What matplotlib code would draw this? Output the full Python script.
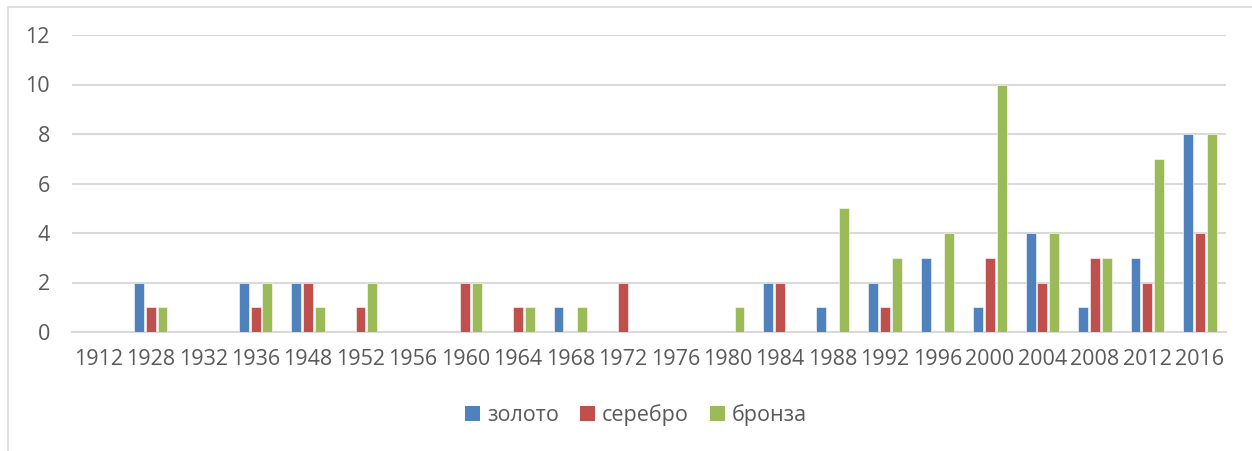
import numpy as np
import matplotlib

matplotlib.use("Agg")
import matplotlib.pyplot as plt
from matplotlib.patches import Rectangle, Patch

years = ["1912", "1928", "1932", "1936", "1948", "1952", "1956", "1960", "1964",
         "1968", "1972", "1976", "1980", "1984", "1988", "1992", "1996", "2000",
         "2004", "2008", "2012", "2016"]
gold = [0, 2, 0, 2, 2, 0, 0, 0, 0, 1, 0, 0, 0, 2, 1, 2, 3, 1, 4, 1, 3, 8]
silver = [0, 1, 0, 1, 2, 1, 0, 2, 1, 0, 2, 0, 0, 2, 0, 1, 0, 3, 2, 3, 2, 4]
bronze = [0, 1, 0, 2, 1, 2, 0, 2, 1, 1, 0, 0, 1, 0, 5, 3, 4, 10, 4, 3, 7, 8]
series_names = ["золото", "серебро", "бронза"]
colors = ["#4F81BD", "#C0504D", "#9BBB59"]

plt.rcParams["font.family"] = ["Open Sans", "DejaVu Sans"]
text_color = "#595959"
grid_color = "#d9d9d9"

fig = plt.figure(figsize=(12.52, 4.51), dpi=100)
ax = fig.add_axes([72 / 1252, 1 - 332 / 451, 1154 / 1252, 297 / 451])

# outer chart frame (runs off the right and bottom edges)
fig.patches.append(Rectangle((7.5 / 1252, -0.2), 1.2, 1.2 - 6.5 / 451,
                             transform=fig.transFigure, fill=False,
                             edgecolor=grid_color, linewidth=1.2))

x = np.arange(len(years))
width = 0.19
step = 0.225
for i, vals in enumerate([gold, silver, bronze]):
    ax.bar(x + (i - 1) * step, vals, width, color=colors[i],
           edgecolor="white", linewidth=0.4, zorder=3)

ax.set_xlim(-0.5, len(years) - 0.5)
ax.set_ylim(0, 12)
ax.set_yticks(range(0, 13, 2))
ax.yaxis.grid(True, color=grid_color, linewidth=1.5, zorder=0)
ax.set_axisbelow(True)
for side in ["top", "right", "left"]:
    ax.spines[side].set_visible(False)
ax.spines["bottom"].set_color(grid_color)
ax.spines["bottom"].set_linewidth(1.5)

ax.set_xticks(x)
ax.set_xticklabels(years)
ax.tick_params(axis="both", length=0, labelsize=15.5, labelcolor=text_color)
ax.tick_params(axis="x", pad=12)
ax.tick_params(axis="y", pad=16)

handles = [Patch(facecolor=c, edgecolor="none") for c in colors]
fig.legend(handles, series_names, loc="center", ncol=3,
           bbox_to_anchor=(636 / 1252, 1 - 415 / 451), frameon=False,
           fontsize=15.5, labelcolor=text_color, handlelength=0.7,
           handleheight=0.7, handletextpad=0.3, columnspacing=1.0)

fig.savefig("out.png", dpi=100)
